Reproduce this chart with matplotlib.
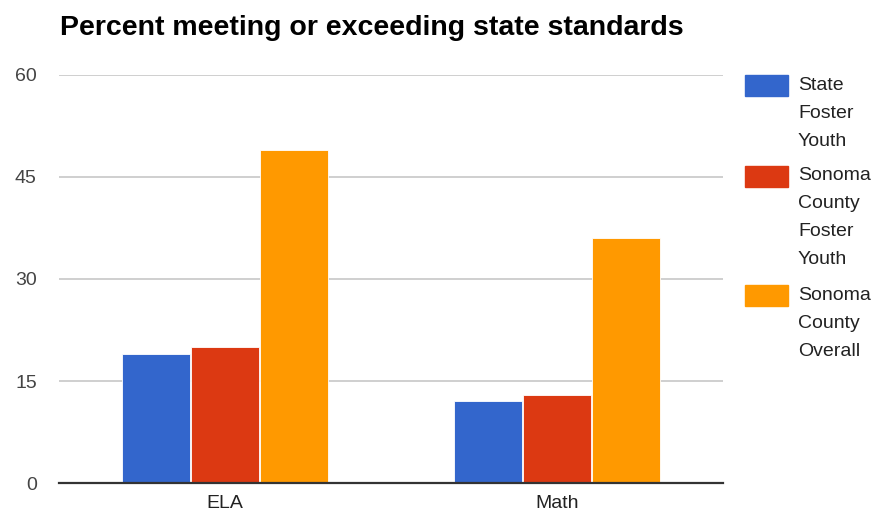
import matplotlib.pyplot as plt
from matplotlib.patches import Rectangle

# ==== Data ====
categories = ["ELA", "Math"]
series_names = ["State Foster Youth", "Sonoma County Foster Youth", "Sonoma County Overall"]
state_foster = [19, 12]
sonoma_foster = [20, 13]
sonoma_overall = [49, 36]
yticks = [0, 15, 30, 45, 60]

colors = ["#3366cc", "#dc3912", "#ff9900"]
W, H = 883, 515

plt.rcParams['font.family'] = ['Liberation Sans', 'DejaVu Sans']

fig = plt.figure(figsize=(W / 100, H / 100), dpi=100)
ax = fig.add_axes([59 / W, 1 - 483 / H, 664 / W, 408 / H])

values = [state_foster, sonoma_foster, sonoma_overall]
bar_w = 0.205
x = range(len(categories))
for i, (vals, c) in enumerate(zip(values, colors)):
    offs = (i - 1) * 0.208
    ax.bar([k + offs for k in x], vals, width=bar_w, color=c,
           edgecolor="white", linewidth=0.6, zorder=3)

ax.set_xlim(-0.5, len(categories) - 0.5)
ax.set_ylim(0, 60)
ax.set_yticks(yticks)
ax.set_yticklabels([str(t) for t in yticks], fontsize=14, color="#444444")
ax.set_xticks(list(x))
ax.set_xticklabels(categories, fontsize=14, color="#222222")
ax.tick_params(axis="y", length=0, pad=16)
ax.tick_params(axis="x", length=0, pad=9)

ax.grid(axis="y", color="#cccccc", linewidth=1.3, zorder=0)
for s in ["top", "right", "left"]:
    ax.spines[s].set_visible(False)
ax.spines["bottom"].set_color("#333333")
ax.spines["bottom"].set_linewidth(1.6)
ax.spines["bottom"].set_zorder(4)

fig.text(60 / W, 1 - 28 / H, "Percent meeting or exceeding state standards",
         fontsize=20.5, fontweight="bold", va="center", ha="left", color="black")

# ==== Legend (wrapped like the original) ====
y = 85
line_h = 28
for name, c in zip(series_names, colors):
    fig.add_artist(Rectangle((745 / W, 1 - (y + 10.5) / H), 43 / W, 21 / H,
                             transform=fig.transFigure, color=c))
    words = name.split()
    for j, w in enumerate(words):
        fig.text(798 / W, 1 - (y + j * line_h) / H, w, fontsize=14,
                 color="#222222", va="center", ha="left")
    y += len(words) * line_h + 7

fig.savefig("out.png", dpi=100)
